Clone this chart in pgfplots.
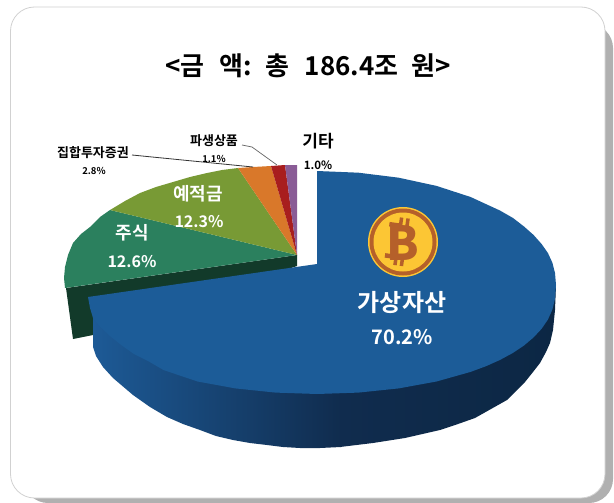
\documentclass[border=0pt]{standalone}
\usepackage{fontspec}
\setmainfont{Noto Sans CJK KR}[BoldFont={Noto Sans CJK KR Bold}]
\newfontfamily\blk{Noto Sans CJK KR Black}
\usepackage{pgfplots}
\pgfplotsset{compat=1.18}
\definecolor{cblue}{HTML}{1C5C98}
\definecolor{sideA}{HTML}{1D5A96}
\definecolor{sideB}{HTML}{102C4E}
\definecolor{sideC}{HTML}{0C2744}
\definecolor{cgreen}{HTML}{2B805E}
\definecolor{cdark}{HTML}{123A2A}
\definecolor{colive}{HTML}{789A35}
\definecolor{corange}{HTML}{D9782A}
\definecolor{cred}{HTML}{A81E1E}
\definecolor{cpurple}{HTML}{8A5C96}
\definecolor{cbrown}{HTML}{B5602A}
\definecolor{cgold}{HTML}{FCC634}
\newcommand{\fs}[1]{\fontsize{#1}{#1}\selectfont\bfseries}
\begin{document}
\begin{tikzpicture}
\begin{axis}[
  hide axis, scale only axis, width=614pt, height=503pt,
  xmin=0, xmax=614, ymin=0, ymax=503, y dir=reverse,
  clip=true, no markers
]
% page and card
\addplot[fill=white, draw=none] coordinates {(0,0)(614,0)(614,503)(0,503)};
\fill[black!31, rounded corners=24pt] (axis cs:24,24) rectangle (axis cs:613,503);
\fill[white, draw=black!18, line width=0.8pt, rounded corners=24pt] (axis cs:10.5,7) rectangle (axis cs:605,498);
% end face of the small slices
\addplot[fill=cdark, draw=none] coordinates {(297,255)(66,288)(73,339)(93,335)(297,266)};
% small slices: apex at (297,255)
\addplot[fill=cgreen, draw=none] coordinates {(297,255)(65,288)(64,278)(65,267)(68,255)(73,243)(81,234)(90,227)(100,217)(110,210)};
\addplot[fill=colive, draw=none] coordinates {(297,255)(110,210)(125,201)(140,193)(156,187)(173,182)(190,177)(207,173)(222,170)(238,168)};
\addplot[fill=corange, draw=none] coordinates {(297,255)(238,168)(253,167)(271,166)};
\addplot[fill=cred, draw=none] coordinates {(297,255)(271,166)(285,165)};
\addplot[fill=cpurple, draw=none] coordinates {(297,255)(285,165)(297,165)};
% blue side
\addplot[left color=sideA, right color=sideB, draw=none] coordinates {(93,300)(93,318)(93,347)(96,356)(103,367)(113,378)(133,395)(150,407)(167,417)(183,424)(200,430)(216,436)(233,440)(250,443)(267,445)(283,447)(300,448)(320,448)(341,447)(341,300)};
\addplot[left color=sideB, right color=sideC, draw=none] coordinates {(340,447)(373,443)(405,438)(440,430)(458,424)(475,418)(491,409)(507,400)(516,391)(525,382)(533,372)(540,363)(546,352)(550,343)(553,330)(555,310)(556,285)(340,285)};
% blue top
\addplot[fill=cblue, draw=none] coordinates {(317,264)(317,171)(358.5,172.7)(398.7,177.7)(436.5,185.9)(470.6,197)(500.1,210.6)(513,218)(524,226.5)(533.6,235)(541.6,244)(547.9,253)(552.4,262.7)(555,273)(556,285)
(555,298.7)(552.4,309.6)(547.9,319.6)(541.6,328.8)(533.6,337.4)(524,345.5)(512.8,353)(500.1,359.9)(486,366.2)(470.6,371.9)(436.5,381.5)(398.7,388.4)(358.5,392.6)(317,394)(275.5,392.6)(235.3,388.4)(197.5,381.5)(163.4,370)(148,361)(133.9,354)(121.2,345)(110,336)(100.4,327)(93,318)(90,308)(88,297)};
% leader lines
\addplot[black!80!white, line width=0.8pt] coordinates {(132,155)(253,167)};
\addplot[black!60!white, line width=0.7pt] coordinates {(242,145)(252,147)(277,165)};
% title and labels
\node[font=\fs{26}] at (axis cs:308,66) {<금\hspace{15pt}액:\hspace{14pt}총\hspace{15pt}186.4조\hspace{13pt}원>};
\node[white,font=\fs{24}] at (axis cs:402,302) {가상자산};
\node[white,font=\fs{20}] at (axis cs:402,337) {70.2\%};
\node[white,font=\fs{18}] at (axis cs:132,233) {주식};
\node[white,font=\fs{16}] at (axis cs:132,262) {12.6\%};
\node[white,font=\fs{18}] at (axis cs:198,194) {예적금};
\node[white,font=\fs{16}] at (axis cs:199,222) {12.3\%};
\node[font=\fs{13}] at (axis cs:93,153) {집합투자증권};
\node[font=\fs{9.5}] at (axis cs:94,171) {2.8\%};
\node[font=\fs{13}] at (axis cs:214,141) {파생상품};
\node[font=\fs{9.5}] at (axis cs:214,159) {1.1\%};
\node[font=\fs{17}] at (axis cs:318,141) {기타};
\node[font=\fs{11.5}] at (axis cs:318,165) {1.0\%};
% bitcoin icon
\fill[cgold] (axis cs:403,242) circle[radius=35pt];
\fill[cbrown] (axis cs:403,242) circle[radius=33.5pt];
\fill[cgold] (axis cs:403,242) circle[radius=29.5pt];
\begin{scope}[shift={(axis cs:403,242)}, rotate=-8]
  \fill[cbrown] (-6.5,14) rectangle (-3,24);
  \fill[cbrown] (0,14) rectangle (3.5,24);
  \fill[cbrown] (-6.5,-24) rectangle (-3,-14);
  \fill[cbrown] (0,-24) rectangle (3.5,-14);
  \fill[cbrown] (-16,13.5) rectangle (-6,18);
  \fill[cbrown] (-16,-18) rectangle (-6,-13.5);
  \node[cbrown, font=\fontsize{47}{47}\selectfont\blk, inner sep=0pt] at (0,0.5) {B};
\end{scope}
\end{axis}
\end{tikzpicture}
\end{document}
